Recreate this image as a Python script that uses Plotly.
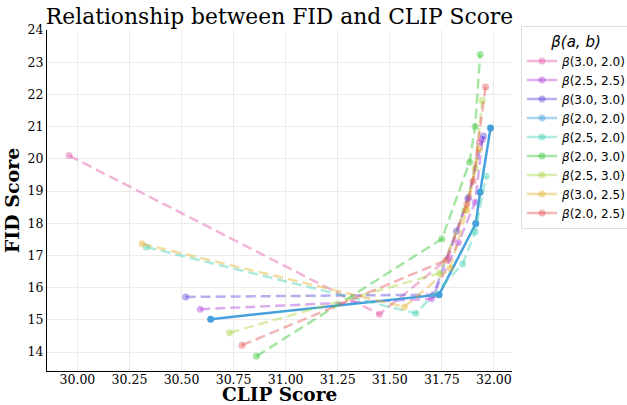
import plotly.graph_objects as go

labels = ["β(3.0, 2.0)", "β(2.5, 2.5)", "β(3.0, 3.0)", "β(2.0, 2.0)", "β(2.5, 2.0)",
          "β(2.0, 3.0)", "β(2.5, 3.0)", "β(3.0, 2.5)", "β(2.0, 2.5)"]

clip_b30_20 = [29.96, 31.45, 31.78, 31.88, 31.93]
fid_b30_20 = [20.10, 15.17, 16.90, 18.80, 20.50]
clip_b25_25 = [30.59, 31.70, 31.83, 31.91, 31.945]
fid_b25_25 = [15.33, 15.65, 17.40, 18.65, 20.60]
clip_b30_30 = [30.52, 31.71, 31.82, 31.875, 31.95]
fid_b30_30 = [15.71, 15.78, 17.75, 18.77, 20.71]
clip_b20_20 = [30.64, 31.737, 31.913, 31.934, 31.984]
fid_b20_20 = [15.02, 15.78, 17.99, 18.96, 20.96]
clip_b25_20 = [30.33, 31.625, 31.85, 31.91, 31.963]
fid_b25_20 = [17.26, 15.20, 16.73, 17.73, 19.46]
clip_b20_30 = [30.86, 31.75, 31.883, 31.91, 31.934]
fid_b20_30 = [13.87, 17.51, 19.89, 21.00, 23.24]
clip_b25_30 = [30.73, 31.74, 31.86, 31.91, 31.944]
fid_b25_30 = [14.60, 16.45, 18.40, 19.70, 21.81]
clip_b30_25 = [30.31, 31.57, 31.79, 31.87, 31.93]
fid_b30_25 = [17.36, 15.40, 16.60, 18.40, 20.30]
clip_b20_25 = [30.79, 31.77, 31.87, 31.90, 31.96]
fid_b20_25 = [14.21, 16.85, 18.60, 19.30, 22.23]

clips = [clip_b30_20, clip_b25_25, clip_b30_30, clip_b20_20, clip_b25_20,
         clip_b20_30, clip_b25_30, clip_b30_25, clip_b20_25]
fids = [fid_b30_20, fid_b25_25, fid_b30_30, fid_b20_20, fid_b25_20,
        fid_b20_30, fid_b25_30, fid_b30_25, fid_b20_25]

base_colors = [(228, 90, 170), (180, 70, 220), (95, 75, 220), (70, 160, 220), (70, 210, 180),
               (55, 200, 55), (170, 215, 70), (228, 180, 50), (228, 90, 90)]
highlight = 3

fig = go.Figure()
for i, (lab, xs, ys, c) in enumerate(zip(labels, clips, fids, base_colors)):
    faint = f"rgba({c[0]},{c[1]},{c[2]},0.45)"
    if i == highlight:
        solid = f"rgb({c[0]},{c[1]},{c[2]})"
        fig.add_trace(go.Scatter(x=xs, y=ys, mode="lines+markers", showlegend=False,
                                 line=dict(color=solid, width=2.5),
                                 marker=dict(color=solid, size=7)))
    else:
        fig.add_trace(go.Scatter(x=xs, y=ys, mode="lines+markers", showlegend=False,
                                 line=dict(color=faint, width=2.5, dash="10px,5px"),
                                 marker=dict(color=faint, size=7)))
for i, (lab, c) in enumerate(zip(labels, base_colors)):
    faint = f"rgba({c[0]},{c[1]},{c[2]},0.45)"
    fig.add_trace(go.Scatter(x=[None], y=[None], mode="lines+markers", name=lab.replace("β", "<i>β</i>"),
                             line=dict(color=faint, width=2.5), marker=dict(color=faint, size=7),
                             legendrank=i + 1))

serif = "DejaVu Serif"
fig.update_layout(
    width=627, height=405,
    margin=dict(l=47, r=115, t=30, b=34, autoexpand=False),
    plot_bgcolor="white", paper_bgcolor="white",
    title=dict(text="Relationship between FID and CLIP Score", font=dict(family=serif, size=21.8, color="black"),
               xref="paper", x=0.5, xanchor="center", y=1 - 16 / 405, yanchor="middle"),
    xaxis=dict(range=[29.854, 32.087], tickvals=[30.0, 30.25, 30.5, 30.75, 31.0, 31.25, 31.5, 31.75, 32.0],
               ticktext=["30.00", "30.25", "30.50", "30.75", "31.00", "31.25", "31.50", "31.75", "32.00"],
               showgrid=True, gridcolor="#ebebeb", gridwidth=1, zeroline=False,
               showline=True, linecolor="black", linewidth=1.3, ticks="", ticklabelstandoff=-3,
               tickfont=dict(family=serif, size=12.5, color="black")),
    yaxis=dict(range=[13.41, 24.0], tickvals=list(range(14, 25)),
               showgrid=True, gridcolor="#ebebeb", gridwidth=1, zeroline=False,
               showline=True, linecolor="black", linewidth=1.3, ticks="",
               tickfont=dict(family=serif, size=12.5, color="black"),
               title=dict(text="<b>FID Score</b>", font=dict(family=serif, size=19, color="black"), standoff=2)),
    legend=dict(xref="container", yref="container", x=521 / 627, y=1 - 26 / 405,
                xanchor="left", yanchor="top",
                bordercolor="#dddddd", borderwidth=1, bgcolor="white",
                font=dict(family="DejaVu Sans", size=12, color="black"),
                title=dict(text="<i>β(a, b)</i>", font=dict(family="DejaVu Sans", size=15, color="black"),
                           side="top center"),
                itemwidth=30, tracegroupgap=0),
)
fig.add_annotation(text="<b>CLIP Score</b>", xref="paper", yref="paper", x=0.5, y=(371 - 394.5) / 341,
                   xanchor="center", yanchor="middle", showarrow=False,
                   font=dict(family=serif, size=18.5, color="black"))
fig.write_html("out.html")
